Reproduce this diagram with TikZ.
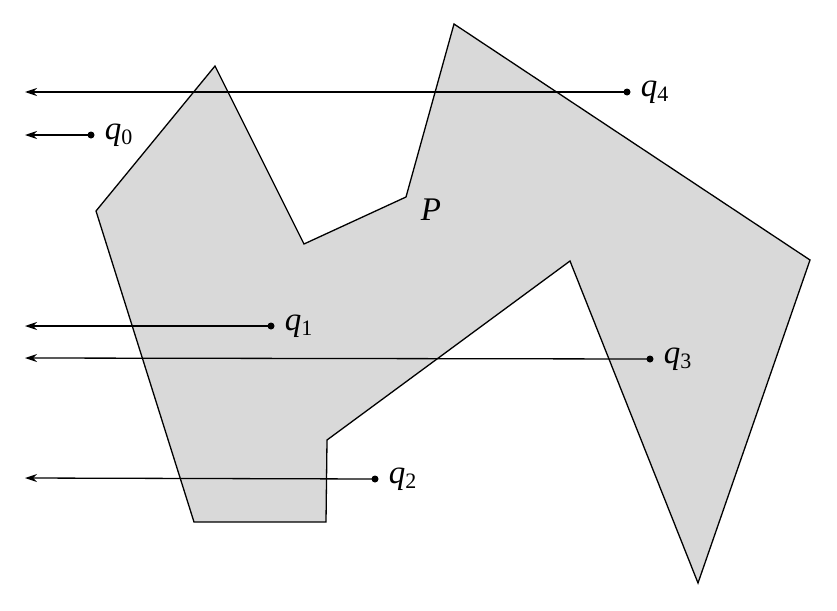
\documentclass[tikz,border=0pt]{standalone}
\usepackage{fontspec}
\setmainfont{Liberation Serif}
\usetikzlibrary{arrows.meta,positioning}

\newcommand{\qsub}[1]{\raisebox{-0.35ex}{\fontsize{22}{24}\selectfont\upshape #1}}

\begin{document}
\begin{tikzpicture}[
	x=1pt, y=-1pt,
	line width=1.3pt,
	node distance=6pt,
	region/.style={
		fill=black!15,
		draw=black,
		line join=miter
	},
	query/.style={
		circle,
		fill=black,
		inner sep=0pt,
		minimum size=7pt
	},
	qname/.style={
		font=\fontsize{33}{36}\selectfont\itshape,
		inner sep=0pt
	},
	ray/.style={
		-{Stealth[length=12pt,width=8pt]}
	}]

   \useasboundingbox (0,0) rectangle (837,610);

   % the polygon
   \draw[region] (215,66) -- (304,244) -- (406,197) -- (454,24) -- (810,260)
      -- (698,583) -- (570,261) -- (327,440) -- (326,522) -- (194,522)
      -- (96,211) -- cycle;
   \node[qname] (pname) at (431,210) {P};

   % query points
   \node[query] (q0) at (91,135) {};
   \node[query] (q1) at (271,326) {};
   \node[query] (q2) at (375,479) {};
   \node[query] (q3) at (650,359) {};
   \node[query] (q4) at (627,92) {};

   \node[qname, right=9pt of q0] {q\qsub{0}};
   \node[qname, right=9pt of q1] {q\qsub{1}};
   \node[qname, right=9pt of q2] {q\qsub{2}};
   \node[qname, right=9pt of q3] {q\qsub{3}};
   \node[qname, right=9pt of q4] {q\qsub{4}};

   \coordinate (e0) at (25,135);
   \coordinate (e1) at (25,326);
   \coordinate (e2) at (25,478);
   \coordinate (e3) at (25,358);
   \coordinate (e4) at (25,92);

   \draw[ray] (q0.center) -- (e0);
   \draw[ray] (q1.center) -- (e1);
   \draw[ray] (q2.center) -- (e2);
   \draw[ray] (q3.center) -- (e3);
   \draw[ray] (q4.center) -- (e4);
\end{tikzpicture}
\end{document}
